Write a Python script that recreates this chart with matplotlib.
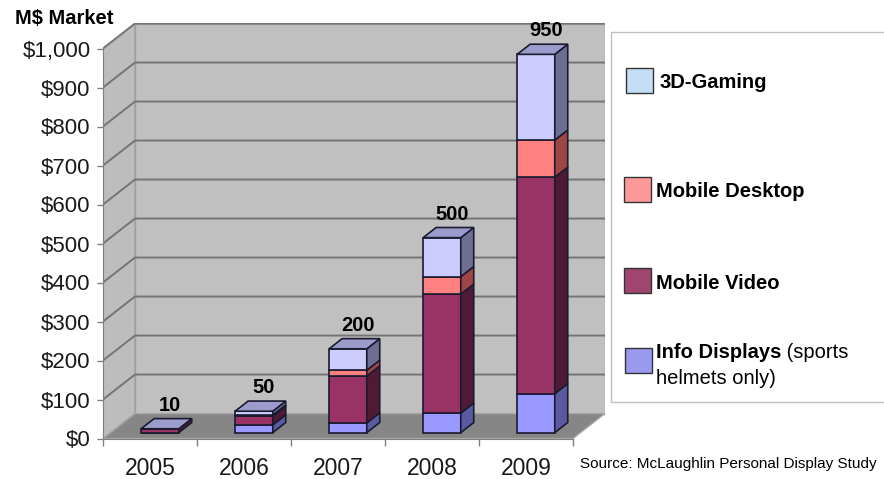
import matplotlib
matplotlib.use('Agg')
import matplotlib.pyplot as plt
from matplotlib.patches import Polygon, Rectangle
import numpy as np

plt.rcParams['font.family'] = ['Liberation Sans', 'DejaVu Sans']

years = ['2005', '2006', '2007', '2008', '2009']
info_displays = [0, 20, 25, 50, 100]
mobile_video = [10, 22, 120, 305, 555]
mobile_desktop = [0, 3, 15, 45, 95]
gaming_3d = [0, 10, 55, 100, 220]
total_labels = ['10', '50', '200', '500', '950']
yticks = list(range(0, 1001, 100))

series = [info_displays, mobile_video, mobile_desktop, gaming_3d]
front_cols = ['#9999ff', '#993366', '#ff8080', '#ccccff']
side_cols = ['#5a5aa0', '#4f1a33', '#a04545', '#6e6e92']
top_col = '#9c9ccc'
edge = '#1a1a30'

W, H = 884, 479
fig = plt.figure(figsize=(W / 100, H / 100), dpi=100)


def fx(px):
    return px / W


def fy(py):
    return 1 - py / H


# fake 3d: wall depth, bar front offset, bar depth (data units)
DX, DY = 0.34, 64
OX, OY = 0.106, 15
BX, BY = 0.138, 26
BW = 0.40
ytop = 1000 + DY + 2

ax = fig.add_axes([fx(103), fy(438.5), (5 + DX) * 94 / W, ytop * 0.39 / H])
ax.set_xlim(-0.5, 4.5 + DX)
ax.set_ylim(0, ytop)
ax.patch.set_visible(False)

# walls and floor
ax.add_patch(Polygon([(-0.5 + DX, DY), (4.5 + DX, DY), (4.5 + DX, 1000 + DY), (-0.5 + DX, 1000 + DY)],
                     closed=True, fc='#c0c0c0', ec='#a0a0a0', lw=1, zorder=0))
ax.add_patch(Polygon([(-0.5, 0), (-0.5 + DX, DY), (-0.5 + DX, 1000 + DY), (-0.5, 1000)],
                     closed=True, fc='#bdbdbd', ec='#a0a0a0', lw=1, zorder=0))
ax.add_patch(Polygon([(-0.5, 0), (4.5, 0), (4.5 + DX, DY), (-0.5 + DX, DY)],
                     closed=True, fc='#868686', ec='#a8a8a8', lw=1, zorder=0.5))
for v in yticks[1:]:
    ax.plot([-0.5, -0.5 + DX, 4.5 + DX], [v, v + DY, v + DY], color='#757575', lw=1.4, zorder=1)

# stacked bars
x = np.arange(len(years))
base = np.zeros(len(years))
for vals, fc, sc in zip(series, front_cols, side_cols):
    vals = np.array(vals, dtype=float)
    ax.bar(x + OX, vals, bottom=base + OY, width=BW, color=fc, edgecolor=edge, lw=1.2, zorder=3)
    for i in range(len(years)):
        if vals[i] <= 0:
            continue
        xr = x[i] + OX + BW / 2
        b = base[i] + OY
        t = b + vals[i]
        ax.add_patch(Polygon([(xr, b), (xr + BX, b + BY), (xr + BX, t + BY), (xr, t)],
                             closed=True, fc=sc, ec=edge, lw=1.2, zorder=3))
    base += vals

for i in range(len(years)):
    xl = x[i] + OX - BW / 2
    xr = xl + BW
    T = base[i] + OY
    ax.add_patch(Polygon([(xl, T), (xr, T), (xr + BX, T + BY), (xl + BX, T + BY)],
                         closed=True, fc=top_col, ec=edge, lw=1.2, zorder=4))
    ax.text(x[i] + OX + 0.75 * BX, base[i] + OY + 60, total_labels[i], ha='center', va='center',
            fontsize=14.5, fontweight='bold', color='black', zorder=5)

# axes
for s in ['top', 'right']:
    ax.spines[s].set_visible(False)
ax.spines['left'].set_color('#808080')
ax.spines['bottom'].set_color('#808080')
ax.spines['left'].set_bounds(0, 1000)
ax.spines['bottom'].set_bounds(-0.5, 4.5)
ax.set_yticks(yticks)
ax.set_yticklabels([f'${v:,}' for v in yticks])
ax.tick_params(axis='y', length=4.5, width=1, color='#808080', labelsize=16, pad=4.5, labelcolor='#1a1a1a')
ax.set_xticks(x)
ax.set_xticklabels(years)
ax.tick_params(axis='x', which='major', length=0, pad=13, labelsize=16.5, labelcolor='#1a1a1a')
ax.set_xticks(np.arange(-0.5, 5, 1), minor=True)
ax.tick_params(axis='x', which='minor', length=5, width=1, color='#808080')

fig.text(fx(15), fy(19), 'M$ Market', fontsize=14.5, fontweight='bold', va='center', ha='left')
fig.text(fx(580), fy(464), 'Source: McLaughlin Personal Display Study', fontsize=11, va='center', ha='left')

# legend (hand placed like the original), runs off the right edge
fig.patches.append(Rectangle((fx(611), fy(402)), fx(400), (402 - 32) / H, transform=fig.transFigure,
                             fc='white', ec='#c0c0c0', lw=1))
legend_items = [('3D-Gaming', '#c4dff5', 626, 68, 660, 88),
                ('Mobile Desktop', '#ff9999', 624, 177, 656, 197),
                ('Mobile Video', '#a04470', 624, 268, 656, 289),
                ('Info Displays', '#9999ee', 625, 348, 656, 358)]
for name, col, sx, sy, tx, ty in legend_items:
    fig.patches.append(Rectangle((fx(sx), fy(sy + 25)), 27 / W, 25 / H, transform=fig.transFigure,
                                 fc=col, ec='#333333', lw=1))
    t = fig.text(fx(tx), fy(ty), name, fontsize=14.5, fontweight='bold', va='baseline', ha='left')

fig.canvas.draw()
bb = t.get_window_extent(fig.canvas.get_renderer())
fig.text(bb.x1 / W, fy(358), ' (sports', fontsize=14.5, va='baseline', ha='left')
fig.text(fx(656), fy(384), 'helmets only)', fontsize=14.5, va='baseline', ha='left')

fig.savefig('out.png', dpi=100)
